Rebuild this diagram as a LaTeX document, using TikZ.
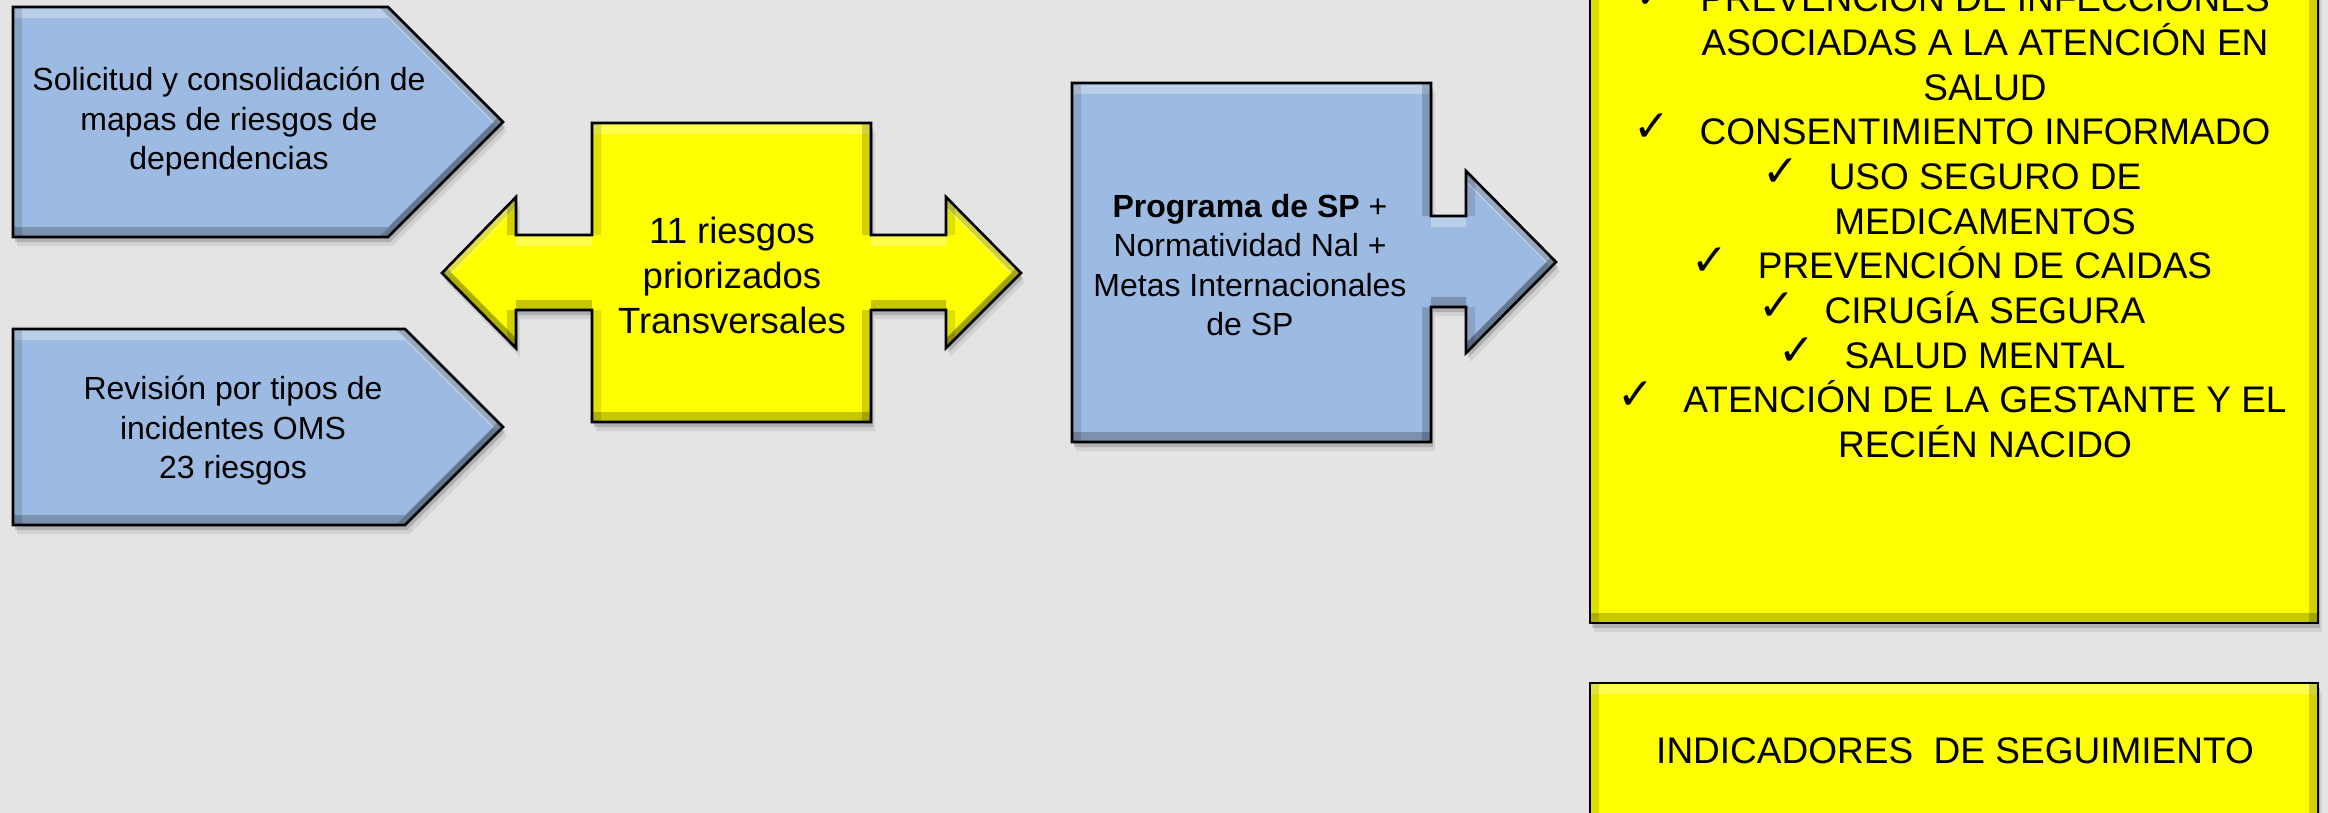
\documentclass[tikz,border=0pt]{standalone}
\usepackage{fontspec}
\setmainfont{Liberation Sans}
\newfontfamily\symfont{DejaVu Sans}
\definecolor{bgc}{HTML}{E4E4E4}
\definecolor{blueF}{HTML}{9DBBE2}
\definecolor{yelF}{HTML}{FFFF00}
% shape paths, pixel coordinates, with offset #1,#2
\newcommand\shA[2]{({13+(#1)},{7+(#2)}) -- ({388+(#1)},{7+(#2)}) -- ({503+(#1)},{122+(#2)}) -- ({388+(#1)},{237+(#2)}) -- ({13+(#1)},{237+(#2)}) -- cycle}
\newcommand\shB[2]{({13+(#1)},{329+(#2)}) -- ({405+(#1)},{329+(#2)}) -- ({503+(#1)},{427+(#2)}) -- ({405+(#1)},{525+(#2)}) -- ({13+(#1)},{525+(#2)}) -- cycle}
\newcommand\shC[2]{({592+(#1)},{123+(#2)}) -- ({871+(#1)},{123+(#2)}) -- ({871+(#1)},{235+(#2)}) -- ({946+(#1)},{235+(#2)}) -- ({946+(#1)},{197+(#2)}) -- ({1021+(#1)},{273+(#2)}) -- ({946+(#1)},{348+(#2)}) -- ({946+(#1)},{310+(#2)}) -- ({871+(#1)},{310+(#2)}) -- ({871+(#1)},{422+(#2)}) -- ({592+(#1)},{422+(#2)}) -- ({592+(#1)},{310+(#2)}) -- ({516+(#1)},{310+(#2)}) -- ({516+(#1)},{348+(#2)}) -- ({442+(#1)},{273+(#2)}) -- ({516+(#1)},{197+(#2)}) -- ({516+(#1)},{235+(#2)}) -- ({592+(#1)},{235+(#2)}) -- cycle}
\newcommand\shD[2]{({1072+(#1)},{83+(#2)}) -- ({1431+(#1)},{83+(#2)}) -- ({1431+(#1)},{216+(#2)}) -- ({1466+(#1)},{216+(#2)}) -- ({1466+(#1)},{171+(#2)}) -- ({1556+(#1)},{262+(#2)}) -- ({1466+(#1)},{353+(#2)}) -- ({1466+(#1)},{307+(#2)}) -- ({1431+(#1)},{307+(#2)}) -- ({1431+(#1)},{442+(#2)}) -- ({1072+(#1)},{442+(#2)}) -- cycle}
\newcommand\shE[2]{({1590+(#1)},{-30+(#2)}) -- ({2318+(#1)},{-30+(#2)}) -- ({2318+(#1)},{623+(#2)}) -- ({1590+(#1)},{623+(#2)}) -- cycle}
\newcommand\shF[2]{({1590+(#1)},{683+(#2)}) -- ({2318+(#1)},{683+(#2)}) -- ({2318+(#1)},{830+(#2)}) -- ({1590+(#1)},{830+(#2)}) -- cycle}
\newcommand\bevelshape[2]{%
  \fill[black,opacity=.16] #1{2}{5};
  \fill[black,opacity=.08] #1{4}{9};
  \fill[#2] #1{0}{0};
  \begin{scope}
    \clip #1{0}{0};
    \fill[white,opacity=.30,even odd rule] #1{0}{0} #1{0}{11};
    \fill[black,opacity=.22,even odd rule] #1{0}{0} #1{0}{-10};
    \fill[black,opacity=.12,even odd rule] #1{0}{0} #1{9}{0};
    \fill[black,opacity=.18,even odd rule] #1{0}{0} #1{-9}{0};
  \end{scope}
  \draw[outl] #1{0}{0};
}
\tikzset{
  outl/.style={draw=black,line width=2.6pt,line join=miter},
  txtA/.style={font=\fontsize{32}{39.5}\selectfont,align=center,inner sep=0pt},
  txtC/.style={font=\fontsize{36.5}{45}\selectfont,align=center,inner sep=0pt},
  lst/.style={font=\fontsize{37}{44.6}\selectfont,inner sep=0pt,anchor=base},
  chk/.style={font=\symfont\fontsize{44}{46}\selectfont,inner sep=0pt,anchor=base east}
}
\begin{document}
\begin{tikzpicture}[x=1pt,y=-1pt]
\useasboundingbox (0,0) rectangle (2328,813);
\clip (0,0) rectangle (2328,813);
\fill[bgc] (0,0) rectangle (2328,813);

\bevelshape{\shA}{blueF}
\bevelshape{\shB}{blueF}
\bevelshape{\shC}{yelF}
\bevelshape{\shD}{blueF}
\bevelshape{\shE}{yelF}
\bevelshape{\shF}{yelF}

\node[txtA] (tA) at (229,122) {Solicitud y consolidación de\\mapas de riesgos de\\dependencias};
\node[txtA] (tB) at (233,431) {Revisión por tipos de\\incidentes OMS\\23 riesgos};
\node[txtC] (tC) at (732,275) {11 riesgos\\priorizados\\Transversales};
\node[txtA] (tD) at (1250,265) {\textbf{Programa de SP} +\\Normatividad Nal +\\Metas Internacionales\\de SP};

\node[lst] (l0) at (1985,11.3) {PREVENCIÓN DE INFECCIONES};
\node[lst] (l1) at (1985,55.9) {ASOCIADAS A LA ATENCIÓN EN};
\node[lst] (l2) at (1985,100.5) {SALUD};
\node[lst] (l3) at (1985,145) {CONSENTIMIENTO INFORMADO};
\node[lst] (l4) at (1985,189.7) {USO SEGURO DE};
\node[lst] (l5) at (1985,234.3) {MEDICAMENTOS};
\node[lst] (l6) at (1985,278.9) {PREVENCIÓN DE CAIDAS};
\node[lst] (l7) at (1985,323.5) {CIRUGÍA SEGURA};
\node[lst] (l8) at (1985,368) {SALUD MENTAL};
\node[lst] (l9) at (1985,412.7) {ATENCIÓN DE LA GESTANTE Y EL};
\node[lst] (l10) at (1985,457.3) {RECIÉN NACIDO};

\foreach \l in {l0,l3,l4,l6,l7,l8,l9}{
  \node[chk] (c\l) at ([xshift=-29pt,yshift=3pt]\l.base west) {✓};
}

\node[lst] (ind) at (1955,763) {INDICADORES\ \ DE SEGUIMIENTO};
\end{tikzpicture}
\end{document}
